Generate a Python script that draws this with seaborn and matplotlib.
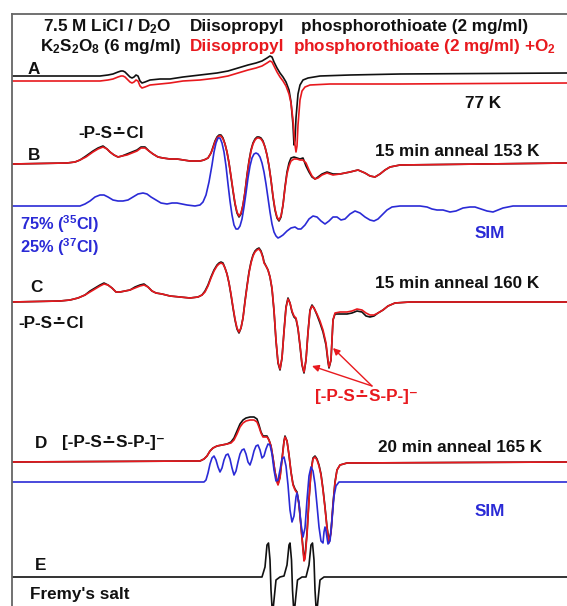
import numpy as np
import pandas as pd
import seaborn as sns
import matplotlib.pyplot as plt

# ESR spectra, in image pixel units (x to the right, y down)
a_x = [12, 90, 100, 108, 113, 118, 121, 123, 125, 127, 130, 132, 134, 136, 138, 140, 142, 145, 150, 160, 170, 183, 200, 217, 228, 238, 248, 256, 262, 267, 270, 272, 274, 277, 280, 283, 286, 289, 291, 293, 294, 295, 296, 298, 300, 303, 308, 320, 350, 400, 567]
a_black = [76, 76, 76, 75, 74, 72, 71, 71, 72, 74, 77, 78, 77, 75, 76, 81, 83, 82, 80, 79, 79, 77, 75, 73, 71, 68, 65, 63, 61, 58, 56, 57, 62, 68, 73, 77, 82, 90, 102, 125, 145, 140, 118, 94, 85, 80, 78, 76, 75, 74, 73]
a_red_x = [12, 90, 100, 108, 113, 118, 121, 123, 125, 127, 130, 132, 134, 136, 138, 140, 142, 145, 150, 160, 170, 183, 200, 217, 228, 238, 248, 256, 262, 267, 270, 272, 274, 277, 280, 283, 286, 289, 291, 293, 295, 296, 297, 298, 300, 302, 305, 310, 330, 400, 567]
a_red = [81, 81, 81, 80, 79, 77, 76, 76, 77, 79, 82, 83, 82, 80, 81, 86, 88, 87, 85, 84, 83, 81, 80, 78, 76, 73, 70, 68, 66, 63, 61, 62, 66, 72, 77, 81, 86, 94, 103, 120, 145, 152, 146, 125, 100, 91, 87, 85, 84, 84, 83]

b_x = [12, 67, 75, 80, 86, 93, 98, 103, 107, 110, 114, 118, 122, 127, 132, 137, 141, 145, 149, 153, 158, 163, 170, 177, 190, 200, 204, 208, 211, 213, 215, 217, 219, 221, 223, 225, 227, 229, 231, 233, 235, 237, 239, 241, 243, 245, 247, 249, 251, 253, 255, 257, 259, 261, 263, 265, 267, 269, 271, 273, 275, 277, 279, 281, 283, 285, 287, 289, 291, 294, 297, 300, 303, 306, 309, 312, 315, 318, 322, 327, 333, 340, 350, 358, 365, 370, 375, 380, 385, 390, 400, 567]
b_red = [164, 163, 162, 160, 157, 152, 149, 147, 149, 152, 155, 157, 156, 155, 153, 151, 148, 148, 151, 154, 157, 158, 159, 159, 161, 161, 160, 158, 153, 148, 142, 138, 136, 136, 139, 144, 152, 163, 176, 190, 203, 212, 216, 213, 205, 192, 176, 162, 151, 144, 140, 138, 138, 139, 142, 147, 155, 166, 180, 196, 209, 217, 220, 216, 205, 188, 174, 166, 161, 159, 159, 160, 160, 163, 170, 176, 179, 178, 175, 173, 175, 174, 172, 170, 173, 176, 177, 174, 170, 167, 165, 163]
b_black = [164, 163, 162, 160, 156, 151, 148, 146, 149, 152, 155, 157, 156, 154, 152, 150, 147, 147, 151, 154, 157, 158, 159, 159, 161, 161, 160, 158, 153, 147, 141, 137, 135, 135, 138, 144, 152, 163, 177, 191, 204, 213, 217, 214, 205, 192, 175, 161, 150, 143, 139, 137, 137, 138, 141, 147, 155, 166, 180, 197, 210, 218, 221, 217, 205, 187, 172, 163, 158, 157, 158, 159, 158, 166, 172, 177, 179, 177, 174, 172, 174, 174, 172, 170, 173, 176, 177, 174, 170, 167, 165, 163]
b_sim_x = [12, 80, 85, 90, 95, 100, 104, 108, 113, 118, 123, 128, 133, 138, 143, 147, 151, 156, 161, 167, 172, 177, 182, 187, 195, 200, 203, 206, 209, 212, 214, 216, 218, 220, 222, 224, 226, 228, 230, 232, 234, 236, 238, 240, 242, 244, 246, 248, 250, 252, 254, 256, 258, 260, 262, 264, 266, 268, 270, 272, 274, 276, 278, 280, 283, 287, 291, 295, 298, 301, 305, 309, 313, 317, 321, 325, 329, 333, 337, 341, 345, 350, 355, 360, 365, 370, 374, 378, 382, 387, 392, 400, 420, 427, 432, 437, 443, 450, 456, 463, 470, 475, 481, 487, 493, 498, 503, 513, 567]
b_sim = [206, 206, 204, 201, 197, 195, 195, 197, 200, 201, 201, 200, 197, 194, 193, 194, 197, 200, 203, 204, 203, 203, 204, 205, 206, 205, 202, 195, 182, 165, 152, 143, 138, 138, 143, 152, 166, 184, 201, 215, 225, 229, 229, 226, 219, 207, 193, 178, 166, 158, 154, 153, 154, 157, 163, 172, 184, 198, 212, 224, 232, 236, 238, 237, 235, 231, 228, 227, 229, 229, 225, 219, 216, 217, 221, 224, 221, 217, 217, 220, 219, 214, 211, 213, 217, 220, 221, 219, 215, 210, 207, 206, 206, 207, 209, 210, 210, 212, 211, 208, 207, 207, 209, 211, 212, 210, 208, 206, 206]

c_x = [12, 60, 70, 78, 85, 90, 95, 100, 104, 108, 112, 116, 120, 125, 130, 135, 140, 144, 148, 152, 156, 162, 170, 180, 190, 198, 202, 205, 208, 211, 214, 217, 219, 221, 223, 225, 227, 229, 231, 233, 235, 237, 239, 241, 243, 245, 247, 249, 251, 253, 255, 257, 259, 261, 263, 264, 266, 268, 270, 272, 274, 276, 278, 280, 282, 284, 286, 288, 290, 292, 294, 296, 298, 300, 302, 304, 306, 308, 310, 312, 314, 317, 320, 323, 326, 328, 329, 331, 333, 335, 340, 347, 352, 357, 362, 366, 370, 374, 378, 383, 388, 395, 410, 567]
c_red = [302, 301, 300, 298, 295, 292, 289, 286, 284, 285, 288, 292, 292, 291, 290, 288, 286, 285, 287, 291, 293, 294, 296, 297, 298, 297, 295, 292, 286, 278, 271, 266, 264, 263, 264, 268, 274, 283, 294, 307, 319, 328, 332, 328, 318, 302, 287, 273, 263, 256, 252, 250, 249, 252, 258, 263, 266, 270, 277, 288, 310, 340, 362, 369, 358, 332, 308, 299, 303, 311, 316, 318, 328, 345, 364, 372, 360, 333, 311, 306, 308, 314, 321, 330, 343, 360, 367, 360, 320, 313, 312, 312, 311, 309, 310, 313, 315, 315, 313, 310, 306, 303, 302, 302]
c_black = [302, 301, 300, 298, 295, 291, 288, 285, 283, 285, 288, 292, 292, 291, 290, 287, 285, 284, 287, 291, 293, 294, 296, 297, 298, 297, 295, 291, 285, 277, 270, 265, 263, 262, 263, 268, 274, 283, 295, 308, 320, 329, 333, 328, 318, 301, 286, 272, 262, 255, 251, 249, 248, 251, 257, 262, 266, 270, 277, 289, 311, 341, 363, 370, 358, 331, 307, 298, 303, 312, 317, 319, 329, 346, 365, 373, 360, 332, 310, 305, 308, 315, 323, 332, 345, 362, 368, 360, 320, 314, 314, 314, 313, 311, 312, 316, 317, 316, 313, 310, 306, 303, 302, 302]

d_x = [12, 195, 200, 204, 207, 210, 213, 217, 222, 227, 231, 234, 237, 240, 243, 246, 250, 254, 257, 259, 261, 263, 265, 267, 269, 271, 273, 275, 277, 278, 280, 282, 284, 285, 287, 289, 291, 293, 295, 297, 299, 301, 303, 304, 305, 307, 309, 311, 313, 315, 317, 319, 321, 323, 325, 327, 329, 331, 333, 335, 337, 340, 347, 567]
d_red = [462, 461, 461, 459, 456, 451, 448, 446, 445, 444, 443, 440, 434, 427, 423, 421, 420, 420, 422, 427, 433, 437, 437, 437, 440, 446, 458, 472, 482, 485, 478, 460, 442, 437, 441, 455, 472, 485, 490, 493, 505, 527, 550, 561, 559, 535, 500, 472, 459, 457, 460, 466, 475, 490, 508, 528, 543, 533, 505, 483, 470, 465, 463, 462]
d_black = [462, 461, 461, 459, 456, 451, 448, 446, 445, 444, 442, 438, 431, 424, 420, 418, 417, 417, 419, 425, 432, 436, 436, 436, 440, 446, 458, 472, 481, 484, 477, 459, 441, 436, 441, 455, 472, 484, 489, 492, 504, 526, 548, 558, 556, 533, 499, 471, 458, 456, 459, 465, 474, 489, 507, 527, 541, 532, 504, 482, 470, 465, 463, 462]
d_sim_x = [12, 204, 206, 208, 210, 212, 214, 216, 218, 220, 222, 224, 226, 228, 230, 232, 234, 236, 238, 240, 242, 244, 246, 248, 250, 252, 254, 256, 258, 260, 262, 264, 266, 268, 270, 272, 274, 276, 278, 280, 282, 284, 286, 288, 290, 292, 294, 296, 297, 299, 301, 303, 305, 307, 309, 311, 313, 315, 317, 319, 321, 323, 324, 325, 326, 328, 330, 332, 334, 336, 339, 567]
d_sim = [482, 482, 480, 473, 464, 458, 456, 460, 467, 472, 468, 460, 455, 454, 459, 468, 475, 471, 462, 454, 450, 449, 454, 462, 465, 459, 451, 446, 445, 450, 458, 456, 449, 444, 445, 454, 470, 481, 480, 470, 459, 457, 466, 485, 510, 522, 516, 497, 493, 503, 524, 537, 528, 500, 476, 467, 471, 484, 505, 527, 541, 543, 532, 527, 531, 544, 541, 520, 496, 486, 482, 482]

e_x = [12, 262, 265, 267, 268.5, 270, 271, 272.5, 274, 276, 280, 284, 287, 289, 290, 291.5, 292.5, 294, 295.5, 297.5, 302, 306, 309, 311, 312.5, 314, 315, 316.5, 318, 320, 324, 567]
e_black = [577, 577, 567, 545, 543, 560, 590, 615, 600, 580, 577, 576, 565, 545, 543, 560, 590, 615, 600, 580, 577, 577, 565, 545, 543, 560, 590, 615, 600, 580, 577, 577]

RED = "#e8191e"
BLUE = "#2a2ad6"
BLK = "#111111"

traces = [
    (a_x, a_black, BLK), (a_red_x, a_red, RED),
    (b_x, b_black, BLK), (b_x, b_red, RED), (b_sim_x, b_sim, BLUE),
    (c_x, c_black, BLK), (c_x, c_red, RED),
    (d_x, d_black, BLK), (d_x, d_red, RED), (d_sim_x, d_sim, BLUE),
    (e_x, e_black, BLK),
]

sns.set_style("white")
plt.rcParams['font.family'] = ['Liberation Sans', 'DejaVu Sans']
plt.rcParams['mathtext.fontset'] = 'custom'
plt.rcParams['mathtext.bf'] = 'Liberation Sans:bold'
plt.rcParams['mathtext.rm'] = 'Liberation Sans:bold'
plt.rcParams['mathtext.default'] = 'bf'

fig = plt.figure(figsize=(5.67, 6.06), dpi=100)
ax = fig.add_axes([12 / 567, 0, 555 / 567, 592 / 606])

for xs, ys, col in traces:
    df = pd.DataFrame({"x": xs, "y": ys})
    sns.lineplot(data=df, x="x", y="y", color=col, lw=1.2, sort=False,
                 estimator=None, ax=ax)

ax.set_xlim(12, 567)
ax.set_ylim(606, 14)
ax.set_xticks([])
ax.set_yticks([])
ax.set_xlabel("")
ax.set_ylabel("")
for side in ["right", "bottom"]:
    ax.spines[side].set_visible(False)
for side in ["left", "top"]:
    ax.spines[side].set_color("#666666")
    ax.spines[side].set_linewidth(1.3)

fs = 12.3
kw = dict(fontsize=fs, fontweight="bold", va="center", ha="left")

ax.text(43, 27, "7.5 M LiCl / D$_2$O", color=BLK, **kw)
ax.text(40, 46, "K$_2$S$_2$O$_8$ (6 mg/ml)", color=BLK, **kw)
ax.text(190, 27, "Diisopropyl", color=BLK, **kw)
ax.text(301, 27, "phosphorothioate (2 mg/ml)", color=BLK, **kw)
ax.text(190, 46, "Diisopropyl", color=RED, **kw)
ax.text(293, 46, "phosphorothioate (2 mg/ml) +O$_2$", color=RED, **kw)

ax.text(28, 70, "A", color=BLK, **kw)
ax.text(465, 103, "77 K", color=BLK, **kw)

ax.text(78, 133, "-P-S\u2238Cl", color=BLK, **kw)
ax.text(28, 156, "B", color=BLK, **kw)
ax.text(375, 151, "15 min anneal 153 K", color=BLK, **kw)
ax.text(20, 224, "75% ($^{35}$Cl)", color=BLUE, fontsize=11.8, fontweight="bold", va="center", ha="left")
ax.text(20, 247, "25% ($^{37}$Cl)", color=BLUE, fontsize=11.8, fontweight="bold", va="center", ha="left")
ax.text(475, 234, "SIM", color=BLUE, **kw)

ax.text(30, 288, "C", color=BLK, **kw)
ax.text(375, 283, "15 min anneal 160 K", color=BLK, **kw)
ax.text(18, 323, "-P-S\u2238Cl", color=BLK, **kw)
ax.text(315, 396, "[-P-S\u2238S-P-]\u207b", color=RED, **kw)
for tip in [(312, 366), (333, 348)]:
    ax.annotate("", xy=tip, xytext=(372, 386),
                arrowprops=dict(arrowstyle="-|>", color=RED, lw=1.0,
                                mutation_scale=10, shrinkA=0, shrinkB=0))

ax.text(35, 443, "D", color=BLK, **kw)
ax.text(62, 443, "[-P-S\u2238S-P-]\u207b", color=BLK, **kw)
ax.text(378, 447, "20 min anneal 165 K", color=BLK, **kw)
ax.text(475, 511, "SIM", color=BLUE, **kw)

ax.text(35, 565, "E", color=BLK, **kw)
ax.text(30, 595, "Fremy's salt", color=BLK, **kw)

fig.savefig("out.png", dpi=100)
